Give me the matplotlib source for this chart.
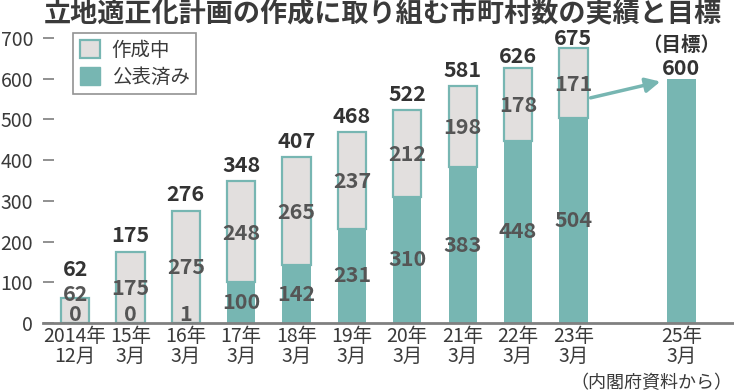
import numpy as np
import matplotlib
matplotlib.use('Agg')
import matplotlib.pyplot as plt
from matplotlib.patches import Patch

plt.rcParams['font.family'] = ['Noto Sans CJK JP', 'DejaVu Sans']

# データ（内閣府資料）
labels = ['2014年\n12月', '15年\n3月', '16年\n3月', '17年\n3月', '18年\n3月',
          '19年\n3月', '20年\n3月', '21年\n3月', '22年\n3月', '23年\n3月']
sakusei = [62, 175, 275, 248, 265, 237, 212, 198, 178, 171]   # 作成中
kohyo = [0, 0, 1, 100, 142, 231, 310, 383, 448, 504]          # 公表済み
totals = [62, 175, 276, 348, 407, 468, 522, 581, 626, 675]
target_label = '25年\n3月'
target = 600

teal = '#77b6b2'
grey = '#e2dfde'
dark = '#333333'
mid = '#555555'

fig = plt.figure(figsize=(7.34, 3.92), dpi=100)
ax = fig.add_axes([43 / 734, 1 - 323 / 392, 1 - 43 / 734, 285 / 392])

x = np.arange(len(labels))
xt = 10.95
w = 0.51

ax.bar(x, kohyo, w, color=teal, edgecolor='none', zorder=2)
ax.bar(x, sakusei, w, bottom=kohyo, color=grey, edgecolor=teal, linewidth=1.6, zorder=2)
ax.bar([xt], [target], w, color=teal, edgecolor='none', zorder=2)

# 数値ラベル
for i in range(len(x)):
    # 公表済み
    if kohyo[i] < 10:
        yk = 20
    else:
        yk = kohyo[i] / 2
    ax.text(x[i], yk, str(kohyo[i]), ha='center', va='center', fontsize=15.5,
            weight='bold', color=mid, zorder=3)
    # 作成中
    ys = kohyo[i] + sakusei[i] / 2 - 3
    if i == 0:
        ys = 71
    ax.text(x[i], ys, str(sakusei[i]), ha='center', va='center', fontsize=15.5,
            weight='bold', color=mid, zorder=3)
    # 合計
    off = 7
    if i == 8:
        off = 4
    if i == 9:
        off = 2
    if i == 0:
        off = 16
    ax.annotate(str(totals[i]), (x[i], totals[i]), xytext=(0, off),
                textcoords='offset points', ha='center', va='baseline',
                fontsize=15.5, weight='bold', color=dark, annotation_clip=False)

ax.annotate('600', (xt, target), xytext=(0, 3), textcoords='offset points',
            ha='center', va='baseline', fontsize=15.5, weight='bold', color=dark,
            annotation_clip=False)
ax.annotate('（目標）', (xt, target), xytext=(0, 20), textcoords='offset points',
            ha='center', va='baseline', fontsize=14, weight='bold', color=dark,
            annotation_clip=False)

# 矢印
ax.annotate('', xy=(10.57, 593), xytext=(9.31, 553),
            arrowprops=dict(arrowstyle='-|>', color=teal, lw=2.5,
                            mutation_scale=22, shrinkA=0, shrinkB=0))

ax.set_xlim(-0.58, 11.9)
ax.set_ylim(0, 700)
ax.set_xticks(list(x) + [xt])
ax.set_xticklabels(labels + [target_label], fontsize=14, color='#3a3a3a',
                   linespacing=0.92)
ax.set_yticks(range(0, 701, 100))
ax.tick_params(axis='y', direction='in', length=8, width=1.3, color='#888888',
               pad=7, labelsize=14, labelcolor='#3a3a3a')
ax.tick_params(axis='x', length=0, pad=2)
for s in ['left', 'top', 'right']:
    ax.spines[s].set_visible(False)
ax.spines['bottom'].set_color('#808080')
ax.spines['bottom'].set_linewidth(2)

handles = [Patch(facecolor=grey, edgecolor=teal, linewidth=1.6, label='作成中'),
           Patch(facecolor=teal, edgecolor=teal, label='公表済み')]
leg = ax.legend(handles=handles, loc='upper left', bbox_to_anchor=(0.043, 1.018),
                borderaxespad=0, fontsize=14, handlelength=1.05, handleheight=1.05,
                labelspacing=0.3, fancybox=False, frameon=True, handletextpad=0.6,
                borderpad=0.35)
leg.get_frame().set_edgecolor('#777777')
leg.get_frame().set_linewidth(1.2)
for t in leg.get_texts():
    t.set_color('#3a3a3a')

fig.text(0.522, 0.962, '立地適正化計画の作成に取り組む市町村数の実績と目標',
         ha='center', va='center', fontsize=19.5, weight='bold', color='#3a3a3a')
fig.text(0.998, 0.0, '（内閣府資料から）', ha='right', va='bottom', fontsize=13,
         color='#3a3a3a')

plt.savefig('out.png', dpi=100)
